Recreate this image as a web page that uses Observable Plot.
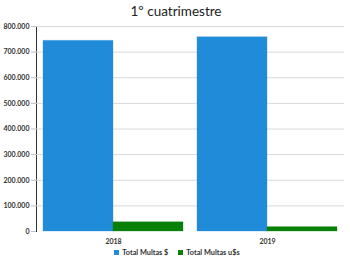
<!DOCTYPE html>
<html><head><meta charset="utf-8">
<script src="https://cdn.jsdelivr.net/npm/d3@7"></script>
<script src="https://cdn.jsdelivr.net/npm/@observablehq/plot@0.6"></script>
<style>
body{margin:0;background:#fff;font-family:Lato,"Open Sans",sans-serif;}
#wrap{width:350px;height:262px;overflow:hidden;}
#title{height:20px;line-height:22px;text-align:center;font-size:13.5px;color:#222;padding-left:2px;}
#legend{display:flex;justify-content:center;gap:10px;font-size:7.3px;font-weight:bold;color:#333;margin-top:0px;padding-left:4px;}
#legend span.sw{display:inline-block;width:5px;height:5px;margin-right:3px;vertical-align:0px;}
svg [aria-label*="axis"] path, svg [aria-label*="axis"] line{stroke:#bfbfbf;stroke-opacity:1;}
</style></head>
<body><div id="wrap"><div id="title">1º cuatrimestre</div><div id="chart"></div><div id="legend"></div></div>
<script>
const years = ["2018","2019"];
const series = ["Total Multas $","Total Multas u$s"];
const multasPesos = [744000, 758000];
const multasDolares = [36000, 17000];
const colors = ["#208bd9","#088008"];
const yTicks = [0,100000,200000,300000,400000,500000,600000,700000,800000];

const data = [];
years.forEach((y,i)=>{
  data.push({year:y, series:series[0], value:multasPesos[i]});
  data.push({year:y, series:series[1], value:multasDolares[i]});
});
const fmt = d3.formatLocale({decimal:",", thousands:".", grouping:[3], currency:["$",""]}).format(",");

const chart = Plot.plot({
  width:350, height:228,
  marginLeft:35, marginRight:6, marginTop:6, marginBottom:17,
  style:{fontFamily:"Lato, 'Open Sans', sans-serif", fontSize:"7px", fontWeight:"bold", color:"#333", background:"#fff"},
  facet:{data, x:"year", marginTop:6, marginBottom:17, marginLeft:35, marginRight:6},
  fx:{domain:years, paddingInner:0, paddingOuter:0, label:null, tickSize:0, tickPadding:8, line:true},
  x:{domain:series, paddingInner:0, paddingOuter:0.1, axis:null},
  y:{domain:[0,800000], ticks:yTicks, tickFormat:fmt, tickSize:5, tickPadding:2, line:true, label:null},
  color:{domain:series, range:colors},
  marks:[
    Plot.ruleY(yTicks.slice(1), {stroke:"#d9d9d9", strokeWidth:1}),
    Plot.barY(data, {x:"series", y:"value", fill:"series", stroke:"series", strokeOpacity:0.3, inset:0})
  ]
});
document.getElementById("chart").appendChild(chart);
document.getElementById("legend").innerHTML = series.map((s,i)=>`<span><span class="sw" style="background:${colors[i]}"></span>${s}</span>`).join("");
</script></body></html>
